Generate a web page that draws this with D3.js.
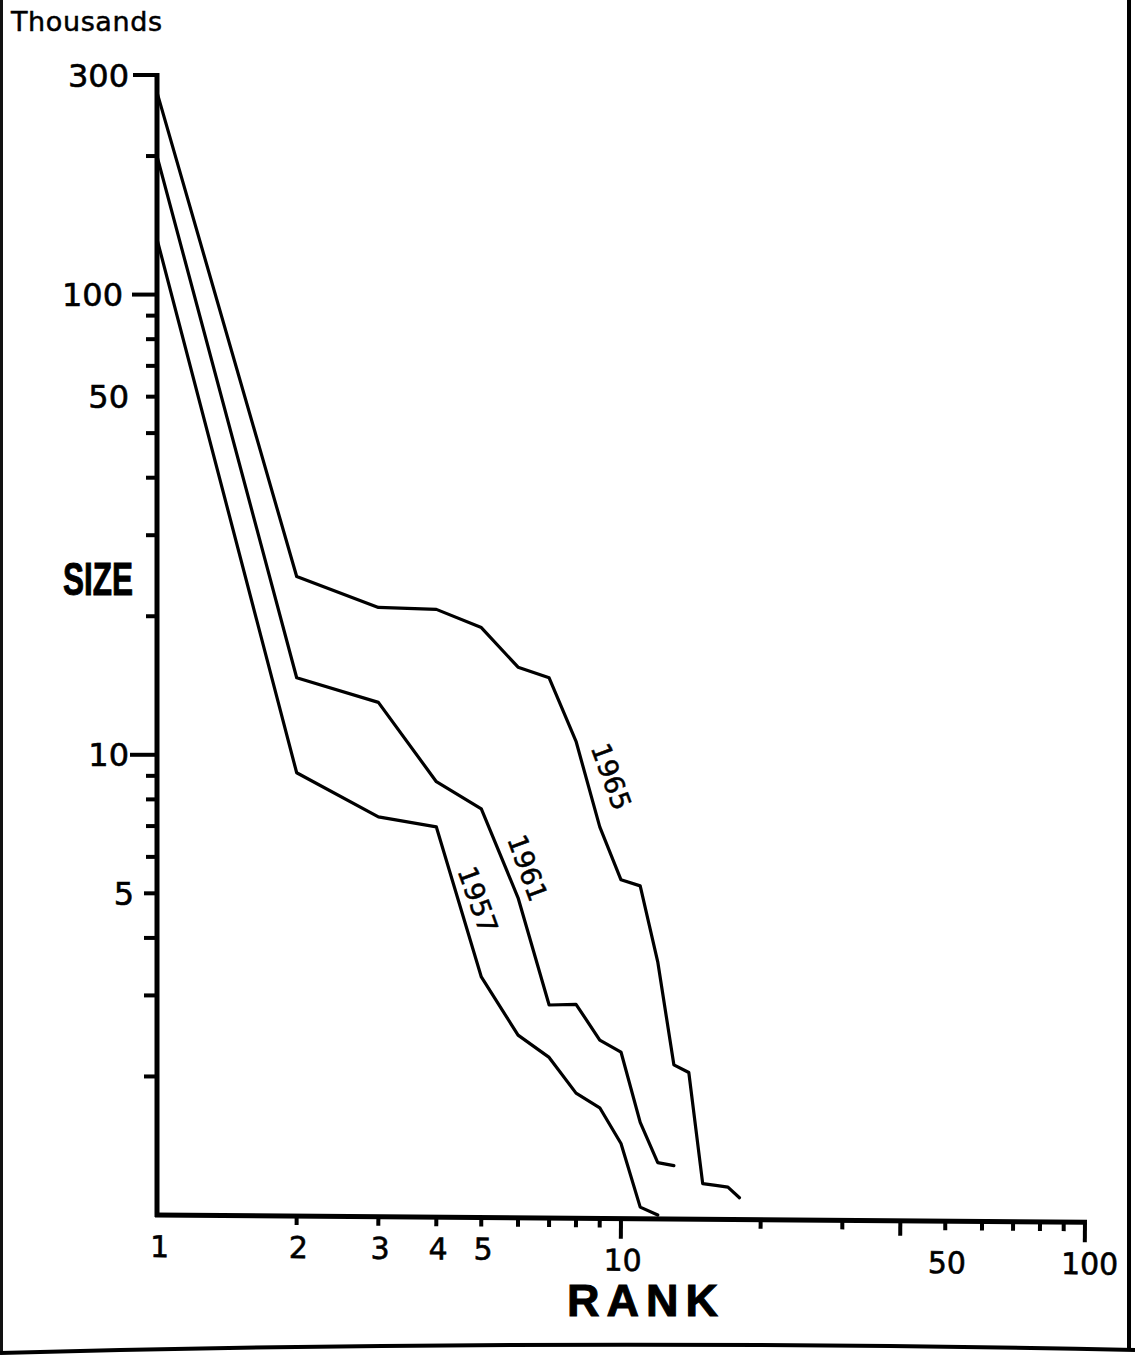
<!DOCTYPE html>
<html><head><meta charset="utf-8">
<script src="https://cdn.jsdelivr.net/npm/d3@7"></script>
<style>body{margin:0;background:#fff}svg{display:block}</style>
</head><body>
<script>
// ---- data ----
const years = ["1957", "1961", "1965"];
const ranks1957 = [1,2,3,4,5,6,7,8,9,10,11,12];
const sizes1957 = [132, 9.14, 7.33, 6.97, 3.29, 2.46, 2.20, 1.84, 1.71, 1.43, 1.04, 1.0];
const ranks1961 = [1,2,3,4,5,6,7,8,9,10,11,12,13];
const sizes1961 = [200, 14.7, 13.0, 8.74, 7.63, 4.89, 2.86, 2.87, 2.40, 2.26, 1.59, 1.30, 1.28];
const ranks1965 = [1,2,3,4,5,6,7,8,9,10,11,12,13,14,15,16,17,18];
const sizes1965 = [275, 24.4, 20.9, 20.7, 18.9, 15.5, 14.7, 10.7, 6.97, 5.35, 5.19, 3.55, 2.12, 2.04, 1.17, 1.16, 1.15, 1.09];

const xMajorTicks = [1, 2, 3, 4, 5, 10, 50, 100];
const xMajorLabels = ["1", "2", "3", "4", "5", "10", "50", "100"];
const xMinorTicks = [6, 7, 8, 9, 20, 30, 40, 60, 70, 80, 90];
const yLabelTicks = [300, 100, 60, 10, 5];
const yLabels = ["300", "100", "50", "10", "5"];
const yMinorTicks = [200, 90, 80, 70, 50, 40, 30, 20, 9, 8, 7, 6, 4, 3, 2];

// label anchors in data units (rank, size)
const labelRank = [4.92, 6.30, 9.54];
const labelSize = [4.84, 5.68, 8.97];

// ---- drawing ----
const W = 1135, H = 1356;
const font = "'DejaVu Sans', 'Liberation Sans', Arial, sans-serif";
const boldFont = "'Liberation Sans', Arial, sans-serif";
const svg = d3.select("body").append("svg").attr("width", W).attr("height", H);

const x = d3.scaleLog().domain([1, 100]).range([157, 1085]);
const y = d3.scaleLog().domain([1, 300]).range([1215, 75]);

// frame
svg.append("line").attr("x1", 1.5).attr("y1", 0).attr("x2", 1.5).attr("y2", 1352)
  .attr("stroke", "#111").attr("stroke-width", 3);
svg.append("line").attr("x1", 1129).attr("y1", 0).attr("x2", 1129).attr("y2", 1350)
  .attr("stroke", "#000").attr("stroke-width", 4);
svg.append("path").attr("d", "M0,1353 Q560,1338 1135,1350")
  .attr("fill", "none").attr("stroke", "#000").attr("stroke-width", 4);

function thick(sel, w) { return sel.attr("stroke", "#000").attr("stroke-width", w).attr("fill", "#000"); }

// Thousands
thick(svg.append("text").attr("x", 11).attr("y", 31).text("Thousands")
  .attr("font-family", font).attr("font-size", 27).attr("letter-spacing", 0.6), 0.5);

// y axis
const yAxis = svg.append("g");
yAxis.append("line").attr("x1", x(1)).attr("x2", x(1)).attr("y1", y(300) - 2).attr("y2", y(1) + 2)
  .attr("stroke", "#000").attr("stroke-width", 5);
const yTickLen = {300: 24, 100: 25, 10: 27, 5: 13, 60: 11};
yAxis.selectAll(".ymaj").data(yLabelTicks).enter().append("line")
  .attr("x1", x(1)).attr("x2", d => x(1) - yTickLen[d])
  .attr("y1", d => y(d)).attr("y2", d => y(d))
  .attr("stroke", "#000").attr("stroke-width", 4);
yAxis.selectAll(".ymin").data(yMinorTicks).enter().append("line")
  .attr("x1", x(1)).attr("x2", d => x(1) - (d < 5 ? 13 : 11))
  .attr("y1", d => y(d)).attr("y2", d => y(d))
  .attr("stroke", "#000").attr("stroke-width", 4);
thick(yAxis.selectAll(".ylab").data(yLabelTicks).enter().append("text")
  .attr("x", (d, i) => i === 4 ? 134 : (i === 1 ? 123 : 129))
  .attr("y", d => y(d)).attr("dy", "0.36em")
  .attr("text-anchor", "end")
  .attr("font-family", font).attr("font-size", 32)
  .text((d, i) => yLabels[i]), 0.6);

// SIZE
thick(svg.append("text").attr("x", 63).attr("y", 595).text("SIZE")
  .attr("font-family", boldFont).attr("font-weight", "bold").attr("font-size", 47)
  .attr("textLength", 70).attr("lengthAdjust", "spacingAndGlyphs"), 1);

// x axis (slightly tilted like the scan)
const xAxis = svg.append("g").attr("transform", `rotate(0.45, ${x(1)}, ${y(1)})`);
xAxis.append("line").attr("x1", x(1) - 2).attr("x2", x(100) + 2).attr("y1", y(1)).attr("y2", y(1))
  .attr("stroke", "#000").attr("stroke-width", 5);
const xTickLen = d => (d === 10 || d === 100) ? 20 : (d === 40 ? 15 : 9);
xAxis.selectAll(".xt").data(xMajorTicks.filter(d => d > 1).concat(xMinorTicks)).enter().append("line")
  .attr("x1", d => x(d)).attr("x2", d => x(d))
  .attr("y1", y(1)).attr("y2", d => y(1) + xTickLen(d))
  .attr("stroke", "#000").attr("stroke-width", 4);
thick(xAxis.selectAll(".xl").data(xMajorTicks).enter().append("text")
  .attr("x", d => x(d) + (d === 1 ? 3 : (d === 100 ? 5 : 2)))
  .attr("y", d => d >= 10 ? y(1) + 52 : y(1) + 42)
  .attr("text-anchor", "middle")
  .attr("font-family", font).attr("font-size", 30)
  .text((d, i) => xMajorLabels[i]), 0.6);

// RANK
thick(svg.append("text").attr("x", 567).attr("y", 1316).text("RANK")
  .attr("font-family", boldFont).attr("font-weight", "bold").attr("font-size", 45)
  .attr("textLength", 151).attr("lengthAdjust", "spacing"), 1);

// series
const series = [
  {ranks: ranks1957, sizes: sizes1957},
  {ranks: ranks1961, sizes: sizes1961},
  {ranks: ranks1965, sizes: sizes1965}
];
const line = d3.line().x(d => x(d[0])).y(d => y(d[1]));
series.forEach((s, i) => {
  svg.append("path")
    .attr("d", line(s.ranks.map((r, j) => [r, s.sizes[j]])))
    .attr("fill", "none").attr("stroke", "#000").attr("stroke-width", 3.2)
    .attr("stroke-linejoin", "round").attr("stroke-linecap", "round");
  const lx = x(labelRank[i]), ly = y(labelSize[i]);
  thick(svg.append("text")
    .attr("transform", `translate(${lx},${ly}) rotate(70)`)
    .attr("text-anchor", "middle").attr("dy", "0.36em")
    .attr("font-family", font).attr("font-size", 27)
    .text(years[i]), 0.5);
});
</script>
</body></html>
